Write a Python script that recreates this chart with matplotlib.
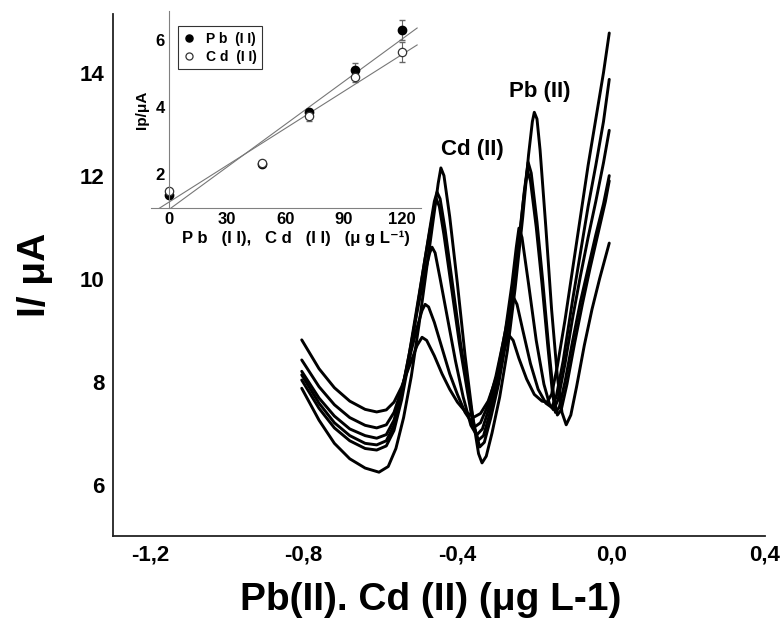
import numpy as np
import matplotlib
matplotlib.use("Agg")
import matplotlib.pyplot as plt

plt.rcParams["font.family"] = ["Liberation Sans", "DejaVu Sans"]
plt.rcParams["font.weight"] = "bold"

# stripping voltammograms: potential (V) / current (uA), lowest to highest addition
scan_f_v = [-0.805, -0.76, -0.72, -0.68, -0.64, -0.61, -0.585, -0.565, -0.545, -0.525,
            -0.505, -0.492, -0.48, -0.46, -0.44, -0.42, -0.40, -0.38, -0.357, -0.34,
            -0.32, -0.30, -0.28, -0.266, -0.255, -0.24, -0.22, -0.20, -0.18, -0.167,
            -0.155, -0.14, -0.12, -0.10, -0.08, -0.06, -0.04, -0.02, -0.005]
scan_f_i = [8.81, 8.25, 7.88, 7.62, 7.46, 7.41, 7.45, 7.60, 7.90, 8.30,
            8.70, 8.86, 8.80, 8.50, 8.15, 7.85, 7.60, 7.42, 7.31, 7.38,
            7.62, 8.05, 8.60, 8.90, 8.80, 8.45, 8.05, 7.75, 7.62, 7.60,
            7.75, 8.30, 9.20, 10.2, 11.2, 12.2, 13.1, 14.0, 14.77]

scan_e_v = [-0.805, -0.76, -0.72, -0.68, -0.64, -0.61, -0.585, -0.565, -0.545, -0.525,
            -0.505, -0.492, -0.484, -0.475, -0.46, -0.44, -0.42, -0.40, -0.38, -0.355,
            -0.34, -0.32, -0.30, -0.28, -0.263, -0.253, -0.245, -0.23, -0.21, -0.19,
            -0.17, -0.155, -0.143, -0.125, -0.10, -0.08, -0.06, -0.04, -0.02, -0.005]
scan_e_i = [8.42, 7.90, 7.55, 7.30, 7.15, 7.10, 7.16, 7.40, 7.85, 8.45,
            9.05, 9.38, 9.50, 9.45, 9.15, 8.65, 8.15, 7.75, 7.40, 7.12,
            7.20, 7.55, 8.10, 8.80, 9.45, 9.62, 9.50, 9.00, 8.35, 7.85,
            7.58, 7.50, 7.70, 8.40, 9.60, 10.5, 11.4, 12.2, 13.05, 13.87]

scan_d_v = [-0.805, -0.76, -0.72, -0.68, -0.64, -0.61, -0.585, -0.565, -0.545, -0.525,
            -0.505, -0.485, -0.472, -0.466, -0.458, -0.445, -0.425, -0.405, -0.385, -0.365,
            -0.35, -0.335, -0.315, -0.295, -0.275, -0.258, -0.247, -0.24, -0.232, -0.215,
            -0.195, -0.175, -0.16, -0.15, -0.138, -0.12, -0.10, -0.08, -0.06, -0.04,
            -0.02, -0.005]
scan_d_i = [8.20, 7.68, 7.33, 7.08, 6.95, 6.90, 6.97, 7.25, 7.80, 8.55,
            9.35, 10.1, 10.5, 10.61, 10.5, 10.0, 9.20, 8.40, 7.70, 7.15,
            6.96, 7.08, 7.55, 8.20, 9.00, 9.90, 10.6, 10.98, 10.8, 9.90,
            8.80, 7.95, 7.55, 7.45, 7.65, 8.35, 9.25, 10.05, 10.8, 11.5,
            12.25, 12.88]

scan_c_v = [-0.805, -0.76, -0.72, -0.68, -0.64, -0.61, -0.585, -0.565, -0.545, -0.525,
            -0.505, -0.485, -0.47, -0.46, -0.455, -0.447, -0.435, -0.415, -0.395, -0.375,
            -0.36, -0.346, -0.332, -0.315, -0.295, -0.275, -0.255, -0.24, -0.228, -0.218,
            -0.21, -0.195, -0.18, -0.165, -0.153, -0.145, -0.135, -0.12, -0.10, -0.08,
            -0.06, -0.04, -0.02, -0.005]
scan_c_i = [8.13, 7.58, 7.20, 6.95, 6.80, 6.77, 6.85, 7.15, 7.75, 8.55,
            9.45, 10.35, 11.0, 11.4, 11.55, 11.4, 10.85, 9.80, 8.75, 7.85,
            7.20, 6.86, 6.95, 7.40, 8.05, 8.85, 9.85, 10.75, 11.55, 12.1,
            11.9, 11.0, 9.90, 8.70, 7.80, 7.40, 7.50, 8.00, 8.80, 9.55,
            10.2, 10.85, 11.45, 12.0]

scan_b_v = [-0.805, -0.76, -0.72, -0.68, -0.64, -0.61, -0.585, -0.565, -0.545, -0.525,
            -0.505, -0.485, -0.47, -0.46, -0.453, -0.445, -0.432, -0.412, -0.392, -0.372,
            -0.355, -0.342, -0.33, -0.313, -0.293, -0.273, -0.253, -0.238, -0.226, -0.216,
            -0.208, -0.193, -0.178, -0.163, -0.15, -0.14, -0.13, -0.115, -0.095, -0.075,
            -0.055, -0.035, -0.015, -0.005]
scan_b_i = [8.03, 7.48, 7.10, 6.85, 6.70, 6.67, 6.75, 7.05, 7.65, 8.45,
            9.40, 10.35, 11.05, 11.5, 11.68, 11.55, 10.95, 9.85, 8.75, 7.80,
            7.10, 6.73, 6.82, 7.30, 7.95, 8.80, 9.85, 10.8, 11.7, 12.26,
            12.05, 11.1, 9.95, 8.70, 7.75, 7.35, 7.45, 7.95, 8.75, 9.50,
            10.2, 10.85, 11.5, 11.9]

scan_a_v = [-0.805, -0.76, -0.72, -0.68, -0.64, -0.604, -0.58, -0.56, -0.54, -0.52,
            -0.50, -0.48, -0.46, -0.45, -0.443, -0.435, -0.42, -0.40, -0.38, -0.36,
            -0.345, -0.336, -0.325, -0.31, -0.29, -0.27, -0.25, -0.23, -0.215, -0.205,
            -0.20, -0.193, -0.185, -0.17, -0.155, -0.14, -0.128, -0.117, -0.105, -0.09,
            -0.07, -0.05, -0.03, -0.005]
scan_a_i = [7.87, 7.25, 6.80, 6.50, 6.32, 6.24, 6.35, 6.70, 7.30, 8.10,
            9.10, 10.2, 11.3, 11.85, 12.15, 12.0, 11.2, 9.90, 8.50, 7.30,
            6.60, 6.42, 6.55, 7.00, 7.70, 8.60, 9.80, 11.2, 12.4, 13.05,
            13.23, 13.1, 12.5, 11.0, 9.40, 8.10, 7.40, 7.16, 7.35, 7.90,
            8.70, 9.40, 10.0, 10.69]

scans = [(scan_f_v, scan_f_i), (scan_e_v, scan_e_i), (scan_d_v, scan_d_i),
         (scan_c_v, scan_c_i), (scan_b_v, scan_b_i), (scan_a_v, scan_a_i)]

x_ticks = [-1.2, -0.8, -0.4, 0.0, 0.4]
x_tick_labels = ["-1,2", "-0,8", "-0,4", "0,0", "0,4"]
y_ticks = [6, 8, 10, 12, 14]

# calibration data for the inset
conc = [0, 48, 72, 96, 120]
pb_ip = [1.4, 2.3, 3.85, 5.1, 6.3]
pb_err = [0.05, 0.05, 0.1, 0.2, 0.3]
cd_ip = [1.5, 2.35, 3.75, 4.9, 5.65]
cd_err = [0.05, 0.05, 0.15, 0.15, 0.3]
inset_x_ticks = [0, 30, 60, 90, 120]
inset_y_ticks = [2, 4, 6]

fig = plt.figure(figsize=(7.84, 6.23), dpi=100)
ax = fig.add_axes([0.1441, 0.1396, 0.8316, 0.838])

for v, i in scans:
    ax.plot(v, i, color="black", linewidth=2.1, solid_joinstyle="round",
            solid_capstyle="round")

ax.set_xlim(-1.296, 0.4)
ax.set_ylim(5, 15.14)
ax.set_xticks(x_ticks, x_tick_labels)
ax.set_yticks(y_ticks)
ax.tick_params(length=0, labelsize=16, pad=6)
for side in ("top", "right"):
    ax.spines[side].set_visible(False)
for side in ("left", "bottom"):
    ax.spines[side].set_linewidth(1.3)
    ax.spines[side].set_color("#222222")

ax.text(-0.12, 0.5, "I/ μA", rotation=90, fontsize=28, ha="center", va="center",
        transform=ax.transAxes)
ax.text(0.488, -0.123, "Pb(II). Cd (II) (μg L-1)", fontsize=28, ha="center",
        va="center", transform=ax.transAxes)
ax.text(-0.362, 12.5, "Cd (II)", fontsize=16, ha="center", va="center")
ax.text(-0.185, 13.64, "Pb (II)", fontsize=16, ha="center", va="center")

# inset: peak current vs concentration
ins = fig.add_axes([0.1932, 0.6661, 0.3438, 0.3156])
ins.set_facecolor("none")
ins.set_xlim(-9, 130)
ins.set_ylim(1, 6.85)

fit_x = np.array([-6, 128])
for ip in (pb_ip, cd_ip):
    k, b = np.polyfit(conc, ip, 1)
    ins.plot(fit_x, k * fit_x + b, color="#777777", linewidth=0.8)

ins.errorbar(conc, pb_ip, yerr=pb_err, fmt="none", ecolor="#666666",
             elinewidth=0.8, capsize=2)
ins.errorbar(conc, cd_ip, yerr=cd_err, fmt="none", ecolor="#666666",
             elinewidth=0.8, capsize=2)
ins.plot(conc, pb_ip, "o", color="black", markersize=6, label="P b  (I I)")
ins.plot(conc, cd_ip, "o", markerfacecolor="white", markeredgecolor="#333333",
         markeredgewidth=0.9, markersize=6, label="C d  (I I)")

ins.spines["left"].set_position(("data", 0))
for side in ("top", "right"):
    ins.spines[side].set_visible(False)
for side in ("left", "bottom"):
    ins.spines[side].set_linewidth(0.8)
    ins.spines[side].set_color("#808080")
ins.set_xticks(inset_x_ticks)
ins.set_yticks(inset_y_ticks)
ins.tick_params(length=0, labelsize=12, pad=3)

ins.text(-0.035, 0.5, "Ip/μA", rotation=90, fontsize=11, ha="center", va="center",
         transform=ins.transAxes)
ins.text(0.536, -0.153, "P b   (I I),   C d   (I I)   (μ g L⁻¹)", fontsize=12,
         ha="center", va="center", transform=ins.transAxes)

leg = ins.legend(loc="upper left", bbox_to_anchor=(0.098, 0.926), fancybox=False,
                 edgecolor="black", fontsize=10, handlelength=0.8, handletextpad=0.8,
                 borderpad=0.4, labelspacing=0.3, borderaxespad=0, markerscale=0.85)
leg.get_frame().set_linewidth(0.8)

fig.savefig("out.png", dpi=100)
